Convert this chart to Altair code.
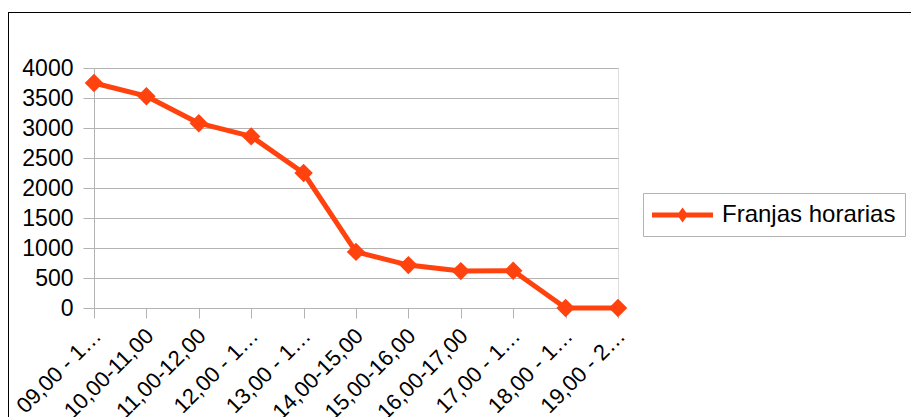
import altair as alt
import pandas as pd

# Data
franjas = ["09,00 - 1…", "10,00-11,00", "11,00-12,00", "12,00 - 1…", "13,00 - 1…",
           "14,00-15,00", "15,00-16,00", "16,00-17,00", "17,00 - 1…", "18,00 - 1…", "19,00 - 2…"]
valores = [3750, 3530, 3080, 2860, 2250, 935, 715, 615, 620, 0, 0]
serie = "Franjas horarias"
y_ticks = [0, 500, 1000, 1500, 2000, 2500, 3000, 3500, 4000]

df = pd.DataFrame({"franja": franjas, "valor": valores, "serie": [serie] * len(franjas)})

COLOR = "#ff420e"
GRAY = "#b3b3b3"
FONT = "Liberation Sans"

x_enc = alt.X(
    "franja:N", sort=None,
    scale=alt.Scale(type="point", padding=0),
    axis=alt.Axis(title=None, labelAngle=-45, labelAlign="right", labelBaseline="middle",
                  labelFontSize=22, labelFont=FONT, labelColor="black",
                  tickSize=10, tickColor=GRAY, domainColor=GRAY,
                  labelPadding=14, labelOffset=3, grid=False,
                  labelOverlap=False, labelLimit=0),
)
y_enc = alt.Y(
    "valor:Q",
    scale=alt.Scale(domain=[0, 4000], nice=False),
    axis=alt.Axis(title=None, values=y_ticks, format="d", labelFontSize=23, labelFont=FONT,
                  labelColor="black", tickSize=11, labelPadding=10,
                  tickColor=GRAY, domainColor=GRAY, gridColor=GRAY, grid=True),
)

# legend symbol: a 61px line with a diamond in its middle (path unit = 13px)
legend_path = ("M-1,-0.19L3.69,-0.19L3.69,0.19L-1,0.19Z "
               "M1.35,-0.58L1.77,0L1.35,0.58L0.93,0Z")

base = alt.Chart(df)
line = base.mark_line(color=COLOR, strokeWidth=5, strokeJoin="round").encode(x=x_enc, y=y_enc)
points = base.mark_point(shape="diamond", filled=True, size=340, opacity=1).encode(
    x=x_enc, y=y_enc,
    color=alt.Color("serie:N", scale=alt.Scale(range=[COLOR]),
                    legend=alt.Legend(title=None, orient="none", legendX=549, legendY=125,
                                      symbolType=legend_path, symbolSize=676,
                                      symbolStrokeWidth=0, labelFontSize=24, labelFont=FONT,
                                      labelColor="black", labelOffset=44, padding=9,
                                      labelLimit=0,
                                      strokeColor=GRAY, fillColor="white")),
)

one = alt.Data(values=[{"a": 1}])
border_left = alt.Chart(one).mark_rule(color="black", strokeWidth=1).encode(
    x=alt.value(-85.5), y=alt.value(-56), y2=alt.value(420))
border_top = alt.Chart(one).mark_rule(color="black", strokeWidth=1).encode(
    x=alt.value(-86), x2=alt.value(900), y=alt.value(-55.5))

chart = alt.layer(border_left, border_top, line, points).properties(
    width=524, height=240,
    autosize=alt.AutoSizeParams(type="none"),
    padding={"left": 86, "top": 60, "right": 293, "bottom": 109},
).configure_view(stroke=GRAY, strokeWidth=1).configure(font=FONT)

chart.save("out.html", embed_options={"renderer": "svg", "actions": False})
